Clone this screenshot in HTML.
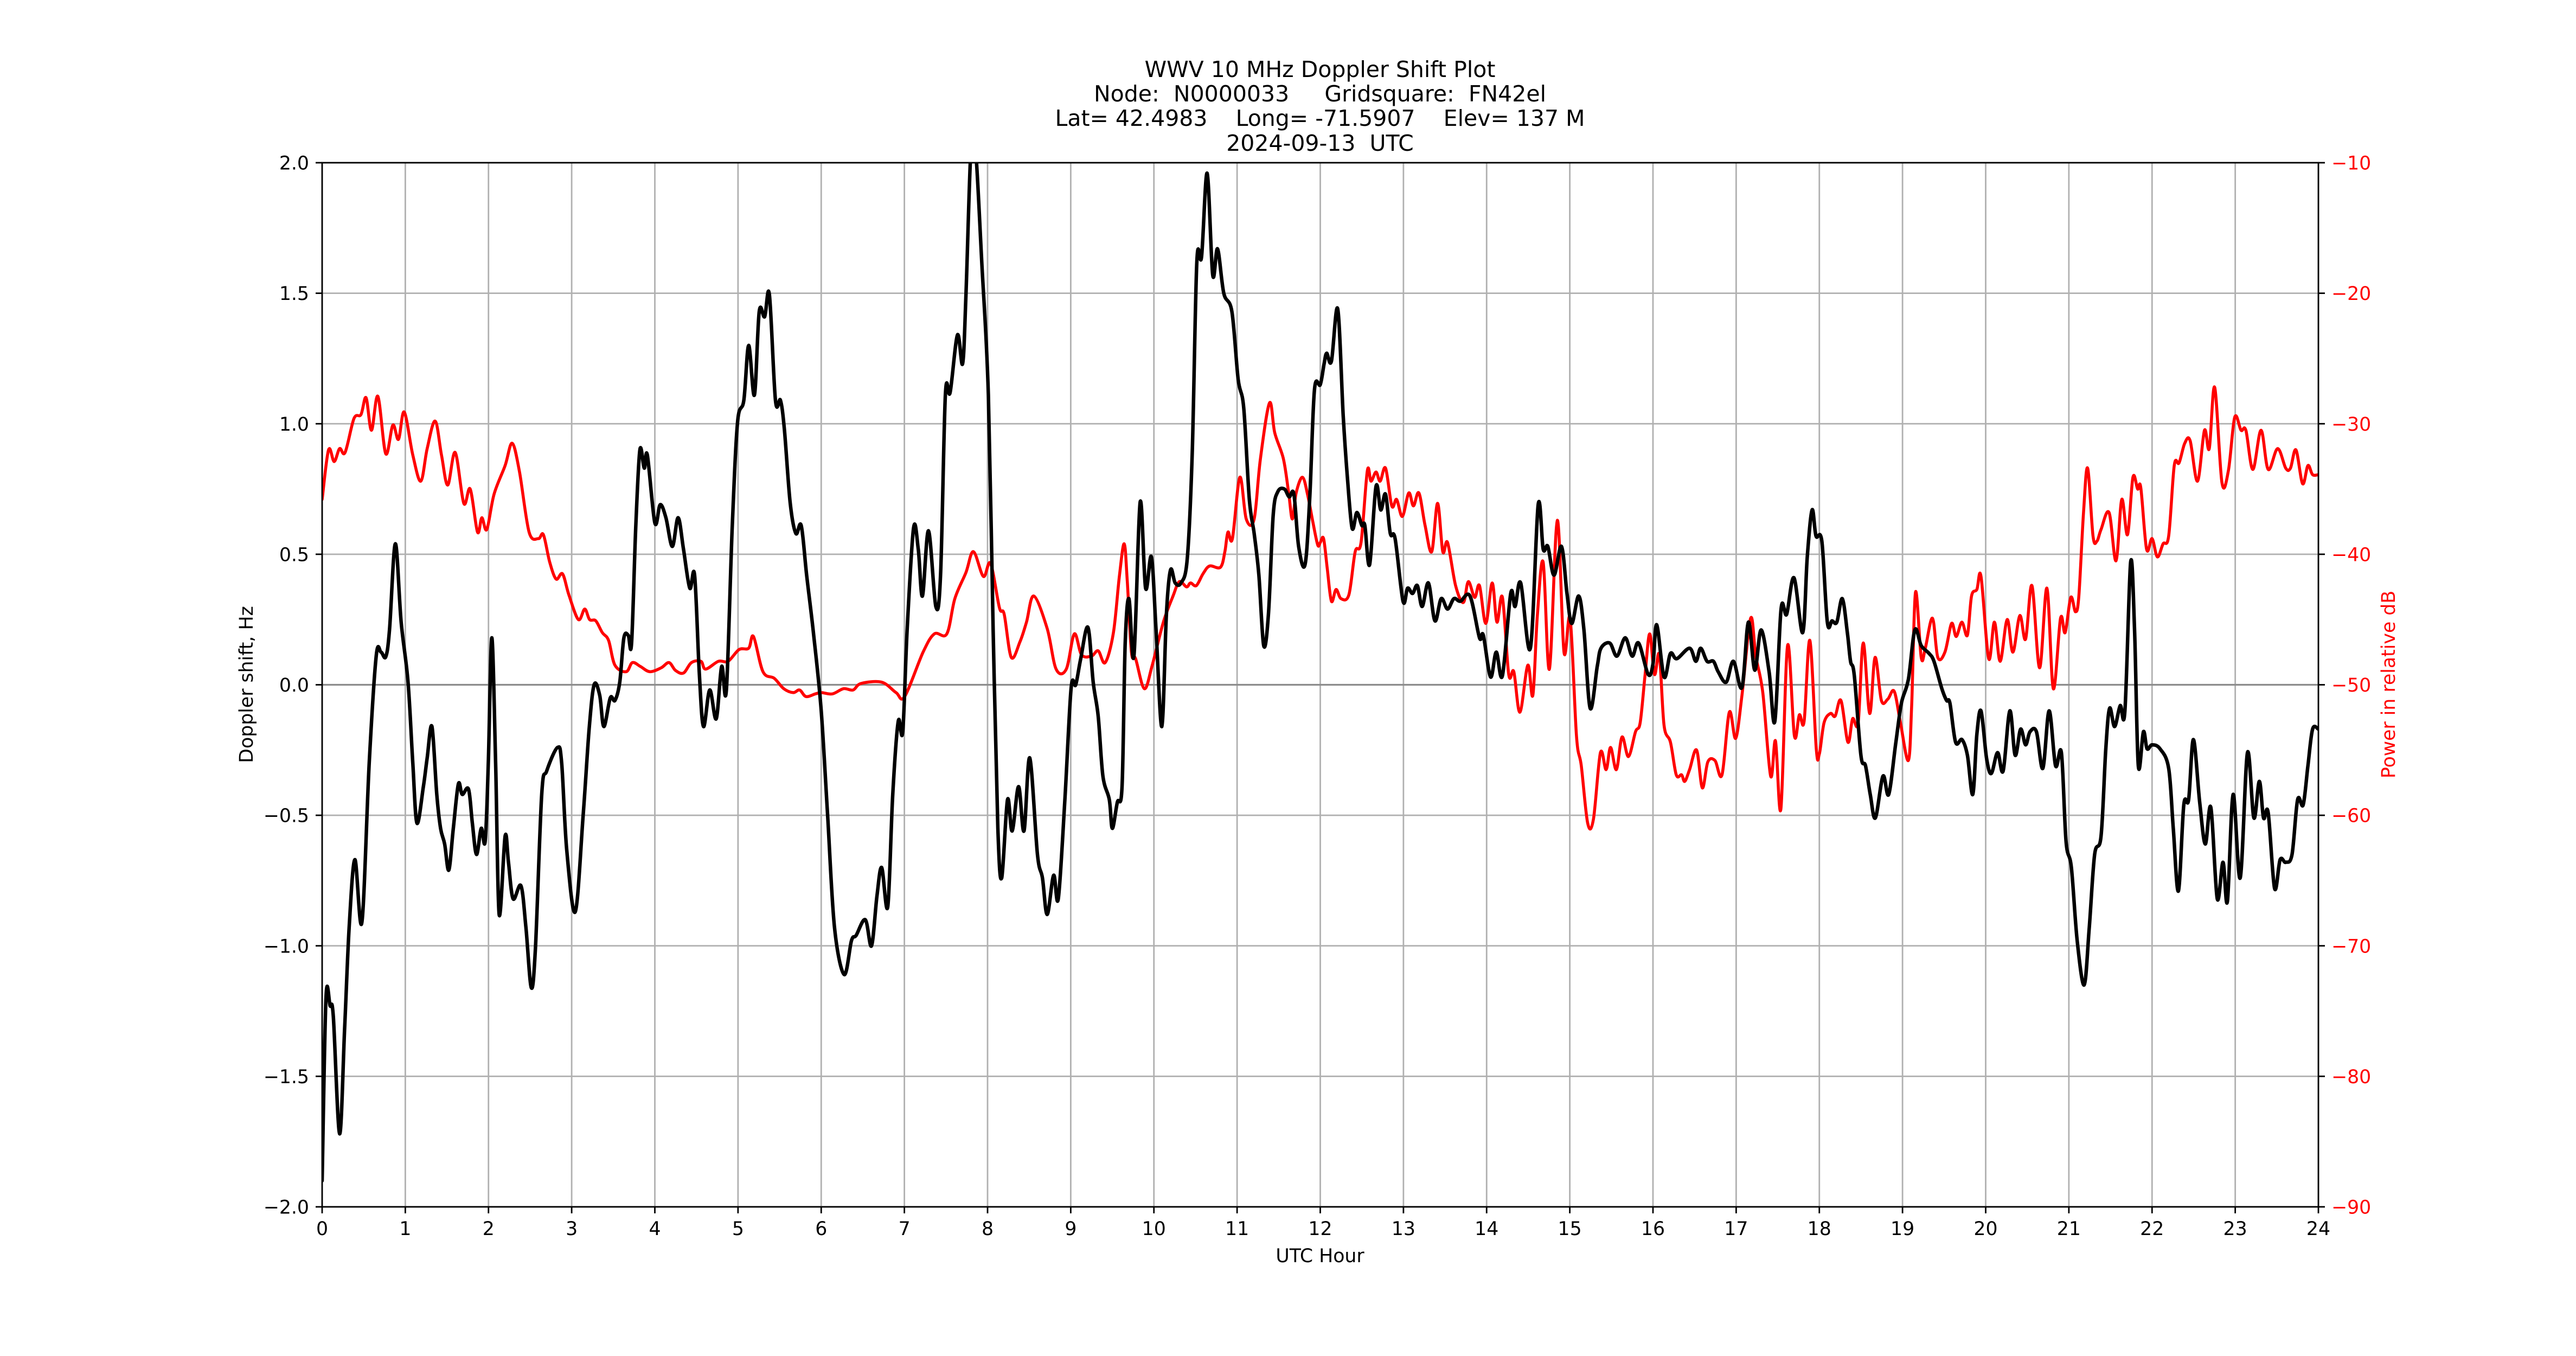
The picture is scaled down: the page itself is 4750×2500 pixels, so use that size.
<!DOCTYPE html>
<html><head><meta charset="utf-8">
<style>
html,body{margin:0;padding:0;background:#fff;}
svg{display:block;font-family:"DejaVu Sans","Liberation Sans",sans-serif;}
</style></head>
<body>
<svg id="chart" width="4750" height="2500" viewBox="0 0 4750 2500" xmlns="http://www.w3.org/2000/svg">
<rect x="0" y="0" width="4750" height="2500" fill="#fff"/>
<g font-size="41" text-anchor="middle" fill="#000">
<text x="2434" y="142">WWV 10 MHz Doppler Shift Plot</text>
<text x="2434" y="187" xml:space="preserve">Node:  N0000033     Gridsquare:  FN42el</text>
<text x="2434" y="232" xml:space="preserve">Lat= 42.4983    Long= -71.5907    Elev= 137 M</text>
<text x="2434" y="278" xml:space="preserve">2024-09-13  UTC</text>
</g>
<defs><clipPath id="plotclip"><rect x="594" y="300" width="3681" height="1925"/></clipPath></defs>
<g id="grid"></g>
<g id="series" clip-path="url(#plotclip)"></g>
<g id="axes"></g>
<text x="2434" y="2327" font-size="34.7" text-anchor="middle">UTC Hour</text>
<text transform="translate(466,1262) rotate(-90)" font-size="34.7" text-anchor="middle">Doppler shift, Hz</text>
<text transform="translate(4416,1262) rotate(-90)" font-size="34.7" text-anchor="middle" fill="#ff0000">Power in relative dB</text>
</svg>
<script>
const xTicks=[0,1,2,3,4,5,6,7,8,9,10,11,12,13,14,15,16,17,18,19,20,21,22,23,24];
const dopTicks=[2.0,1.5,1.0,0.5,0.0,-0.5,-1.0,-1.5,-2.0];
const dopTickLabels=["2.0","1.5","1.0","0.5","0.0","\u22120.5","\u22121.0","\u22121.5","\u22122.0"];
const powTicks=[-10,-20,-30,-40,-50,-60,-70,-80,-90];
const powTickLabels=["\u221210","\u221220","\u221230","\u221240","\u221250","\u221260","\u221270","\u221280","\u221290"];
const dopHours=[0,0.046,0.096,0.134,0.21,0.27,0.325,0.394,0.478,0.566,0.65,0.708,0.765,0.81,0.88,0.95,1.033,1.09,1.14,1.217,1.263,1.32,1.378,1.424,1.473,1.523,1.577,1.638,1.684,1.76,1.806,1.856,1.913,1.96,1.998,2.04,2.086,2.128,2.2,2.24,2.296,2.39,2.45,2.514,2.564,2.64,2.7,2.83,2.88,2.94,3.043,3.138,3.21,3.27,3.337,3.387,3.464,3.52,3.578,3.628,3.68,3.72,3.77,3.82,3.873,3.91,4.0,4.064,4.133,4.21,4.28,4.344,4.42,4.478,4.535,4.585,4.66,4.738,4.803,4.86,4.93,4.994,5.07,5.128,5.197,5.255,5.32,5.377,5.45,5.51,5.557,5.626,5.695,5.76,5.825,5.91,6.0,6.077,6.16,6.276,6.364,6.42,6.53,6.605,6.67,6.727,6.8,6.86,6.926,6.98,7.033,7.11,7.167,7.217,7.29,7.378,7.435,7.493,7.55,7.638,7.7,7.74,7.8,7.856,7.93,8.01,8.067,8.124,8.17,8.24,8.296,8.373,8.438,8.507,8.6,8.66,8.717,8.794,8.85,8.928,9.004,9.06,9.12,9.207,9.27,9.33,9.387,9.464,9.5,9.56,9.617,9.655,9.7,9.76,9.835,9.9,9.97,10.026,10.095,10.15,10.2,10.256,10.325,10.4,10.46,10.516,10.573,10.64,10.707,10.765,10.84,10.937,11.013,11.08,11.147,11.205,11.262,11.32,11.377,11.434,11.49,11.568,11.626,11.683,11.74,11.817,11.874,11.93,12.0,12.046,12.077,12.134,12.21,12.276,12.325,12.383,12.44,12.5,12.536,12.593,12.67,12.727,12.785,12.842,12.9,12.995,13.05,13.11,13.167,13.225,13.3,13.378,13.454,13.53,13.607,13.684,13.8,13.914,13.96,14.047,14.116,14.19,14.29,14.342,14.41,14.526,14.62,14.68,14.736,14.81,14.9,14.966,15.023,15.107,15.17,15.245,15.33,15.375,15.48,15.567,15.666,15.75,15.827,15.942,16.0,16.045,16.133,16.21,16.286,16.44,16.516,16.573,16.65,16.727,16.784,16.88,16.967,17.07,17.147,17.224,17.3,17.396,17.465,17.54,17.607,17.695,17.8,17.855,17.913,17.96,18.03,18.096,18.153,18.21,18.276,18.337,18.375,18.42,18.5,18.555,18.612,18.674,18.765,18.834,18.92,18.987,19.07,19.148,19.225,19.32,19.378,19.473,19.53,19.57,19.638,19.715,19.78,19.845,19.894,19.944,20.01,20.067,20.143,20.21,20.29,20.354,20.42,20.48,20.533,20.61,20.687,20.763,20.84,20.91,20.966,21.03,21.1,21.184,21.245,21.31,21.387,21.444,21.49,21.55,21.617,21.674,21.743,21.79,21.835,21.896,21.94,22.0,22.095,22.2,22.255,22.317,22.382,22.44,22.497,22.573,22.64,22.707,22.784,22.853,22.906,22.975,23.06,23.147,23.224,23.29,23.34,23.396,23.473,23.54,23.607,23.683,23.75,23.817,23.874,23.93,24.0];
const dopValues=[-1.9,-1.2,-1.23,-1.27,-1.72,-1.32,-0.93,-0.67,-0.91,-0.3,0.11,0.125,0.107,0.21,0.54,0.24,0.01,-0.3,-0.53,-0.39,-0.28,-0.16,-0.42,-0.55,-0.61,-0.71,-0.55,-0.38,-0.42,-0.4,-0.53,-0.65,-0.55,-0.6,-0.3,0.18,-0.3,-0.88,-0.58,-0.68,-0.82,-0.77,-0.93,-1.16,-1.01,-0.42,-0.33,-0.24,-0.3,-0.63,-0.87,-0.5,-0.17,0.0,-0.04,-0.16,-0.05,-0.06,0.01,0.18,0.19,0.16,0.6,0.9,0.83,0.88,0.62,0.69,0.64,0.53,0.64,0.52,0.37,0.42,0.04,-0.16,-0.02,-0.13,0.07,-0.02,0.6,1.005,1.09,1.3,1.11,1.43,1.41,1.495,1.09,1.09,0.98,0.7,0.58,0.61,0.42,0.19,-0.1,-0.5,-0.93,-1.11,-0.98,-0.96,-0.9,-1.0,-0.81,-0.7,-0.85,-0.42,-0.14,-0.18,0.21,0.6,0.52,0.34,0.59,0.3,0.42,1.11,1.12,1.34,1.23,1.49,2.05,2.05,1.62,1.11,0.21,-0.55,-0.74,-0.44,-0.56,-0.39,-0.56,-0.28,-0.65,-0.74,-0.88,-0.73,-0.82,-0.45,-0.015,0.0,0.1,0.22,0.01,-0.12,-0.35,-0.44,-0.55,-0.45,-0.39,0.16,0.33,0.11,0.7,0.37,0.49,0.21,-0.16,0.27,0.44,0.39,0.39,0.48,0.88,1.62,1.64,1.96,1.57,1.67,1.5,1.43,1.17,1.06,0.71,0.58,0.42,0.15,0.27,0.65,0.74,0.75,0.72,0.73,0.53,0.46,0.72,1.13,1.15,1.23,1.27,1.24,1.44,1.03,0.8,0.6,0.66,0.61,0.61,0.46,0.76,0.67,0.73,0.58,0.56,0.32,0.37,0.35,0.38,0.3,0.39,0.245,0.33,0.29,0.33,0.32,0.34,0.18,0.19,0.03,0.125,0.035,0.35,0.3,0.39,0.14,0.69,0.52,0.53,0.42,0.53,0.35,0.235,0.34,0.21,-0.09,0.07,0.14,0.16,0.11,0.18,0.11,0.16,0.04,0.08,0.23,0.03,0.12,0.1,0.14,0.09,0.14,0.09,0.09,0.05,0.01,0.09,-0.01,0.24,0.056,0.21,0.05,-0.14,0.29,0.27,0.41,0.2,0.49,0.67,0.57,0.55,0.24,0.245,0.24,0.33,0.2,0.09,0.036,-0.27,-0.31,-0.42,-0.51,-0.35,-0.42,-0.22,-0.07,0.02,0.21,0.15,0.12,0.09,-0.015,-0.06,-0.07,-0.22,-0.21,-0.27,-0.42,-0.19,-0.1,-0.28,-0.34,-0.26,-0.33,-0.1,-0.27,-0.17,-0.23,-0.18,-0.18,-0.32,-0.1,-0.31,-0.26,-0.6,-0.7,-0.98,-1.15,-0.93,-0.65,-0.58,-0.245,-0.09,-0.16,-0.08,-0.1,0.47,0.21,-0.31,-0.18,-0.245,-0.23,-0.245,-0.32,-0.55,-0.79,-0.46,-0.44,-0.21,-0.45,-0.61,-0.47,-0.82,-0.68,-0.83,-0.42,-0.74,-0.26,-0.51,-0.37,-0.51,-0.49,-0.78,-0.67,-0.68,-0.65,-0.44,-0.46,-0.31,-0.17,-0.17];
const powHours=[0,0.077,0.145,0.21,0.276,0.383,0.467,0.528,0.593,0.67,0.765,0.85,0.918,0.987,1.09,1.186,1.263,1.359,1.435,1.51,1.6,1.703,1.78,1.868,1.92,1.98,2.067,2.2,2.285,2.373,2.488,2.6,2.66,2.736,2.813,2.89,2.966,3.08,3.157,3.215,3.29,3.368,3.444,3.52,3.655,3.73,3.827,3.94,4.076,4.17,4.248,4.344,4.44,4.554,4.61,4.765,4.88,5.013,5.128,5.186,5.3,5.435,5.55,5.664,5.74,5.817,5.93,6.0,6.134,6.268,6.383,6.478,6.727,6.9,7.003,7.225,7.36,7.51,7.607,7.74,7.83,7.95,8.036,8.143,8.2,8.285,8.39,8.468,8.556,8.717,8.824,8.947,9.043,9.13,9.25,9.33,9.414,9.513,9.586,9.643,9.68,9.73,9.78,9.885,9.98,10.114,10.23,10.305,10.393,10.44,10.51,10.59,10.67,10.8,10.853,10.89,10.944,11.033,11.11,11.205,11.28,11.39,11.453,11.557,11.62,11.664,11.71,11.786,11.85,11.913,11.97,12.0,12.04,12.084,12.134,12.19,12.25,12.344,12.42,12.49,12.566,12.61,12.67,12.72,12.785,12.86,12.918,12.987,13.064,13.12,13.186,13.26,13.34,13.41,13.473,13.53,13.627,13.72,13.78,13.856,13.914,13.99,14.067,14.124,14.19,14.266,14.327,14.4,14.495,14.556,14.61,14.68,14.755,14.85,14.93,15.004,15.08,15.138,15.215,15.284,15.368,15.437,15.49,15.56,15.628,15.705,15.79,15.846,15.904,15.96,16.018,16.076,16.133,16.21,16.28,16.344,16.382,16.44,16.524,16.593,16.66,16.745,16.83,16.918,16.994,17.07,17.174,17.236,17.32,17.415,17.473,17.538,17.618,17.7,17.76,17.817,17.886,17.963,18.0,18.057,18.134,18.19,18.26,18.344,18.4,18.467,18.528,18.605,18.67,18.746,18.823,18.9,18.975,19.07,19.11,19.156,19.225,19.274,19.36,19.424,19.51,19.59,19.645,19.714,19.78,19.83,19.894,19.944,20.036,20.105,20.174,20.258,20.327,20.41,20.48,20.556,20.648,20.736,20.813,20.9,20.955,21.023,21.08,21.12,21.176,21.226,21.29,21.337,21.387,21.483,21.567,21.636,21.705,21.77,21.827,21.865,21.934,22.0,22.064,22.133,22.2,22.267,22.325,22.393,22.458,22.547,22.63,22.688,22.753,22.84,22.918,22.994,23.07,23.128,23.212,23.31,23.396,23.51,23.607,23.664,23.73,23.81,23.874,23.93,24.0];
const powValues=[-35.8,-32.0,-32.9,-31.9,-32.2,-29.6,-29.3,-28.0,-30.5,-27.9,-32.3,-30.1,-31.2,-29.1,-32.4,-34.4,-31.9,-29.8,-32.4,-34.7,-32.2,-36.1,-35.0,-38.3,-37.2,-38.1,-35.4,-33.2,-31.5,-33.7,-38.3,-38.8,-38.5,-40.6,-41.9,-41.5,-43.1,-45.0,-44.2,-45.0,-45.1,-46.0,-46.6,-48.5,-49.0,-48.3,-48.6,-49.0,-48.7,-48.3,-48.9,-49.1,-48.3,-48.2,-48.8,-48.2,-48.2,-47.3,-47.2,-46.3,-49.0,-49.5,-50.3,-50.6,-50.4,-50.9,-50.7,-50.6,-50.7,-50.3,-50.4,-49.9,-49.8,-50.6,-50.9,-47.5,-46.1,-46.1,-43.4,-41.4,-39.8,-41.7,-40.7,-44.1,-44.6,-47.9,-46.7,-45.2,-43.2,-45.7,-48.8,-48.8,-46.1,-47.7,-47.8,-47.4,-48.3,-46.0,-41.6,-39.2,-42.1,-47.5,-48.0,-50.3,-48.5,-45.2,-43.2,-42.1,-42.5,-42.2,-42.4,-41.5,-40.9,-41.0,-39.8,-38.3,-38.8,-34.1,-37.3,-37.3,-32.7,-28.4,-30.7,-32.7,-35.3,-37.3,-35.3,-34.1,-35.5,-37.6,-39.3,-39.1,-38.8,-41.1,-43.6,-42.7,-43.4,-43.1,-39.8,-39.1,-33.6,-34.4,-33.7,-34.4,-33.4,-36.3,-35.8,-37.1,-35.3,-36.3,-35.3,-37.8,-39.8,-36.1,-39.8,-39.1,-42.4,-43.7,-42.1,-43.3,-42.4,-45.3,-42.2,-45.2,-43.3,-49.2,-49.0,-52.1,-48.5,-50.8,-44.7,-40.6,-48.8,-37.4,-47.5,-44.9,-53.9,-56.2,-60.6,-60.3,-55.2,-56.5,-54.8,-56.5,-54.0,-55.5,-53.6,-52.9,-49.3,-46.1,-49.2,-47.7,-53.1,-54.4,-56.9,-56.9,-57.4,-56.5,-55.0,-57.9,-55.9,-55.8,-56.9,-52.1,-54.1,-50.8,-44.9,-47.8,-50.6,-57.0,-54.3,-59.5,-47.0,-53.9,-52.3,-52.8,-46.6,-54.9,-55.3,-52.9,-52.2,-52.4,-51.2,-54.4,-52.6,-52.9,-46.8,-52.2,-47.9,-51.2,-51.1,-50.5,-52.9,-55.8,-51.6,-42.9,-47.9,-47.2,-44.9,-47.9,-47.5,-45.3,-46.3,-45.2,-46.2,-43.2,-42.7,-41.7,-48.0,-45.2,-48.2,-45.0,-47.5,-44.7,-46.5,-42.4,-48.7,-42.6,-50.3,-44.9,-46.0,-43.3,-44.4,-43.2,-36.8,-33.4,-38.6,-39.0,-38.1,-36.8,-40.5,-35.8,-38.5,-34.1,-35.0,-34.9,-39.6,-38.8,-40.2,-39.2,-38.6,-33.2,-33.0,-31.5,-31.3,-34.4,-30.5,-31.9,-27.2,-34.5,-33.6,-29.5,-30.5,-30.5,-33.5,-30.5,-33.5,-31.9,-33.4,-33.4,-32.0,-34.6,-33.2,-33.9,-33.9];

const NS='http://www.w3.org/2000/svg';
const L=594,R=4275,T=300,B=2225;
function xScale(h){return L+(h-0)/(24-0)*(R-L);}
function yDop(v){return T+(2-v)/(2-(-2))*(B-T);}
function yPow(v){return T+(-10-v)/(-10-(-90))*(B-T);}
function mk(tag,attrs,parent){const e=document.createElementNS(NS,tag);for(const k in attrs)e.setAttribute(k,attrs[k]);parent.appendChild(e);return e;}
const grid=document.getElementById('grid'),axes=document.getElementById('axes'),series=document.getElementById('series');

xTicks.forEach(function(t){
  const x=xScale(t);
  const g=mk('line',{x1:x,y1:T,x2:x,y2:B,stroke:'#b0b0b0','stroke-width':2.8},grid);
  
  
  const tk=mk('line',{x1:x,y1:B,x2:x,y2:B+12,stroke:'#000','stroke-width':2.8},axes);
  
  
  const lb=mk('text',{x:x,y:2277,'font-size':34.7,'text-anchor':'middle'},axes);
  lb.textContent=String(t);
  
  
});
dopTicks.forEach(function(t,i){
  const y=yDop(t);
  const g=mk('line',{x1:L,y1:y,x2:R,y2:y,stroke:(t===0?'#8c8c8c':'#b0b0b0'),'stroke-width':(t===0?3.2:2.8)},grid);
  
  
  const tk=mk('line',{x1:L-12,y1:y,x2:L,y2:y,stroke:'#000','stroke-width':2.8},axes);
  
  
  const lb=mk('text',{x:L-24,y:y+12.5,'font-size':34.7,'text-anchor':'end'},axes);
  lb.textContent=dopTickLabels[i];
  
  
});
powTicks.forEach(function(t,i){
  const y=yPow(t);
  const tk=mk('line',{x1:R,y1:y,x2:R+12,y2:y,stroke:'#000','stroke-width':2.8},axes);
  
  
  const lb=mk('text',{x:R+24,y:y+12.5,'font-size':34.7,'text-anchor':'start',fill:'#ff0000'},axes);
  lb.textContent=powTickLabels[i];
  
  
});
const frame=mk('rect',{x:L,y:T,width:R-L,height:B-T,fill:'none',stroke:'#000','stroke-width':2.8},axes);



function smoothPath(xs,ys){
  const n=xs.length;let d='M'+xs[0].toFixed(1)+','+ys[0].toFixed(1);
  for(let i=0;i<n-1;i++){
    const x0=xs[Math.max(i-1,0)],y0=ys[Math.max(i-1,0)];
    const x1=xs[i],y1=ys[i],x2=xs[i+1],y2=ys[i+1];
    const x3=xs[Math.min(i+2,n-1)],y3=ys[Math.min(i+2,n-1)];
    const c1x=x1+(x2-x0)/6,c1y=y1+(y2-y0)/6,c2x=x2-(x3-x1)/6,c2y=y2-(y3-y1)/6;
    d+='C'+c1x.toFixed(1)+','+c1y.toFixed(1)+' '+c2x.toFixed(1)+','+c2y.toFixed(1)+' '+x2.toFixed(1)+','+y2.toFixed(1);
  }
  return d;
}
const pPow=mk('path',{d:smoothPath(powHours.map(xScale),powValues.map(yPow)),fill:'none',stroke:'#ff0000','stroke-width':5.5,'stroke-linejoin':'round','stroke-linecap':'round'},series);


const pDop=mk('path',{d:smoothPath(dopHours.map(xScale),dopValues.map(yDop)),fill:'none',stroke:'#000','stroke-width':6.5,'stroke-linejoin':'round','stroke-linecap':'round'},series);


</script>
</body></html>
